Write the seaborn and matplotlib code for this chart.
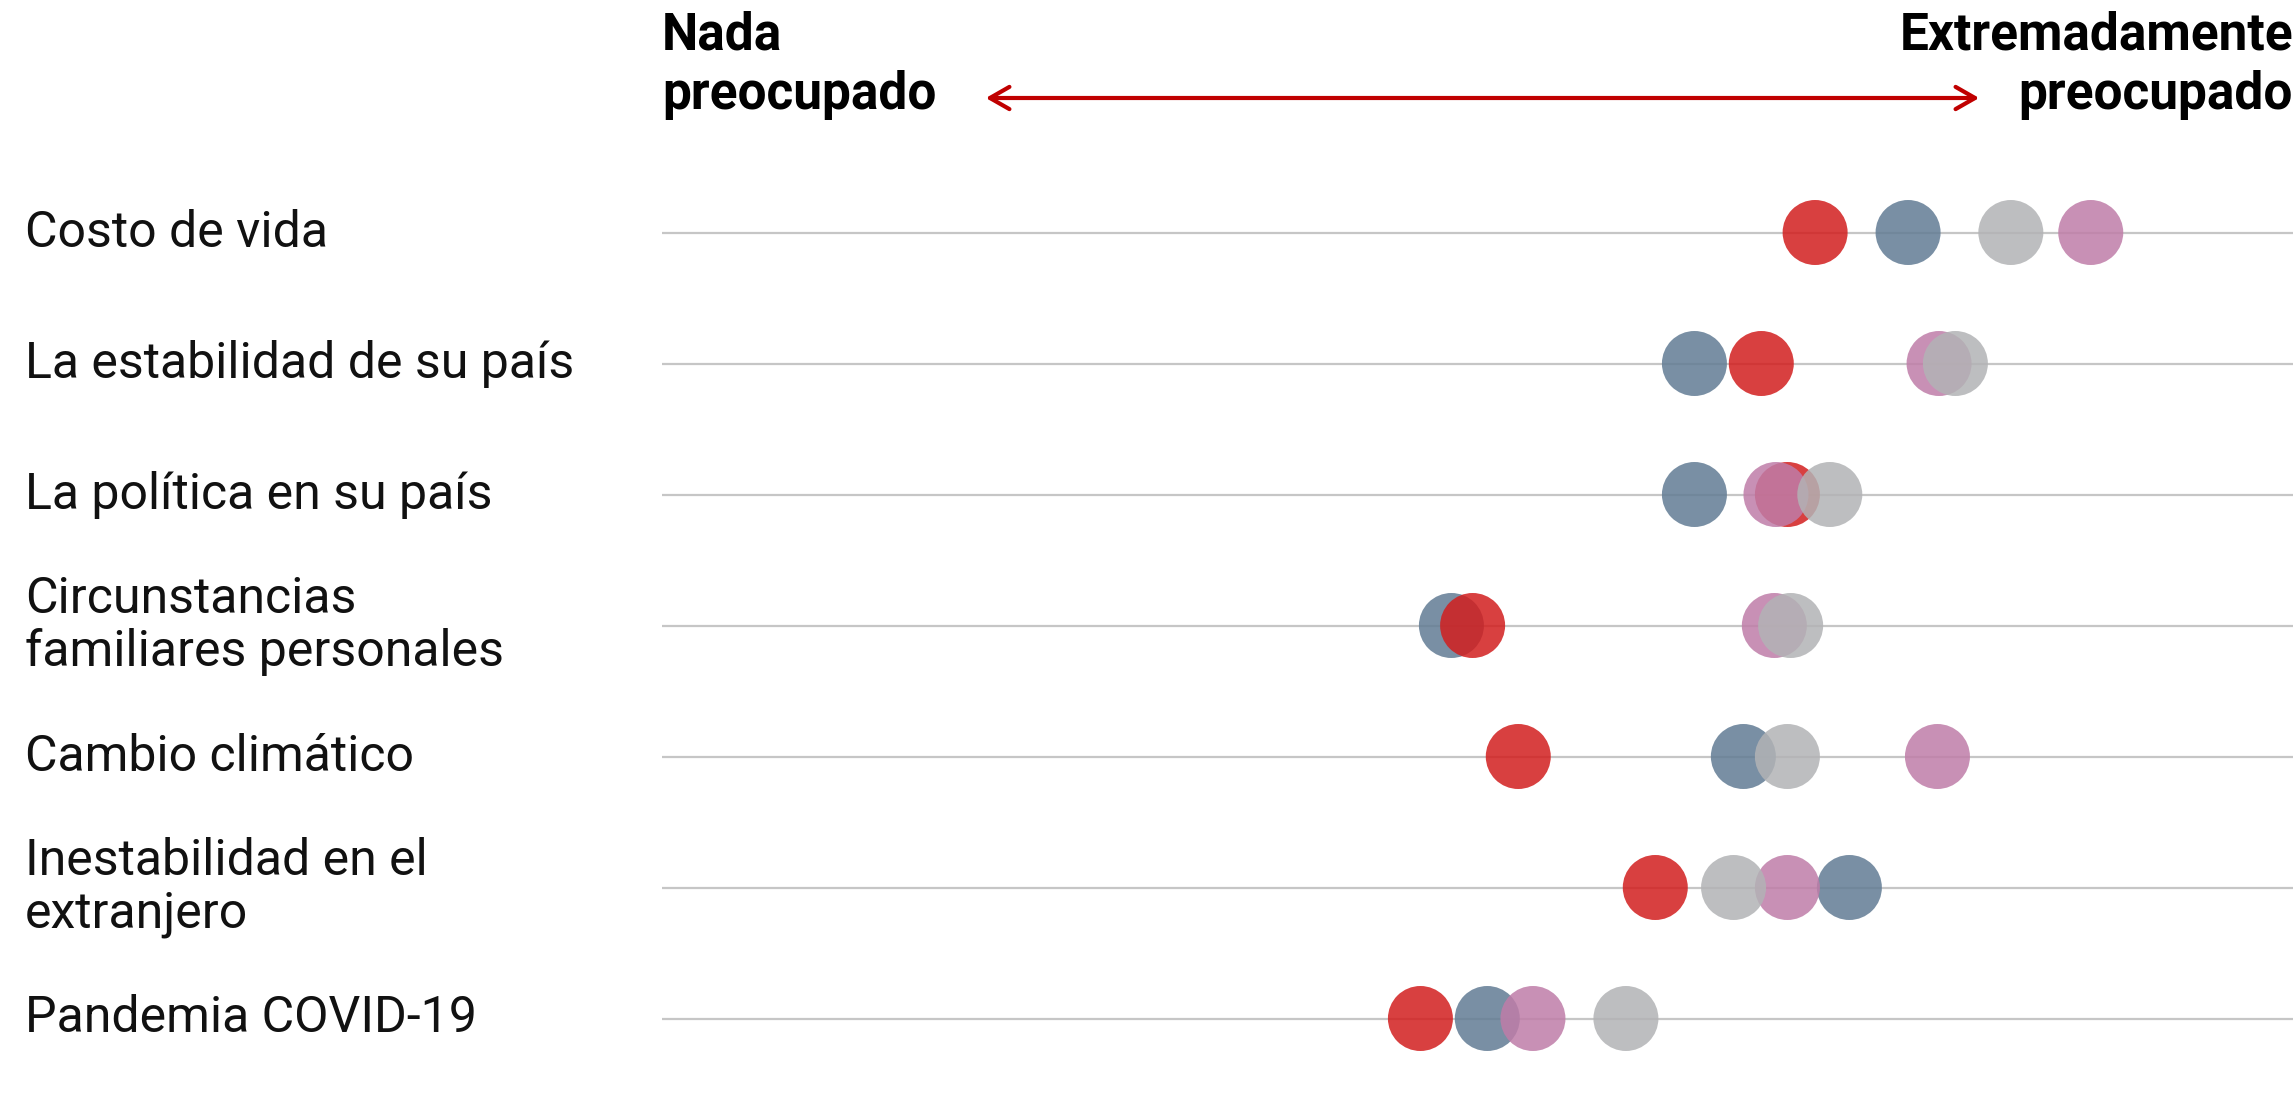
import pandas as pd
import seaborn as sns
import matplotlib.pyplot as plt
from matplotlib.patches import FancyArrowPatch
from matplotlib.transforms import blended_transform_factory

# Concern level, on a 0 (nada) to 10 (extremadamente) scale
temas = [
    "Costo de vida",
    "La estabilidad de su país",
    "La política en su país",
    "Circunstancias\nfamiliares personales",
    "Cambio climático",
    "Inestabilidad en el\nextranjero",
    "Pandemia COVID-19",
]
grupo_azul = [7.64, 6.33, 6.33, 4.84, 6.63, 7.28, 5.06]
grupo_rojo = [7.07, 6.74, 6.90, 4.97, 5.25, 6.09, 4.65]
grupo_rosa = [8.76, 7.83, 6.83, 6.82, 7.82, 6.90, 5.34]
grupo_gris = [8.27, 7.93, 7.16, 6.92, 6.90, 6.57, 5.91]

grupos = ["azul", "rojo", "rosa", "gris"]
colores = {"azul": "#627C94", "rojo": "#D21E1E", "rosa": "#BF7DA8", "gris": "#B2B3B5"}


def build_frame():
    rows = []
    for nombre, valores in zip(grupos, [grupo_azul, grupo_rojo, grupo_rosa, grupo_gris]):
        for i, v in enumerate(valores):
            rows.append({"tema": i, "valor": v, "grupo": nombre})
    return pd.DataFrame(rows)


def main():
    sns.set_style("white")
    plt.rcParams["font.family"] = ["Roboto", "DejaVu Sans"]

    W, H = 2293, 1103
    fig = plt.figure(figsize=(W / 100, H / 100), dpi=100)

    row_gap = 131.0
    top = 232.5 - row_gap / 2
    bottom = top + row_gap * len(temas)
    ax = fig.add_axes([662 / W, 1 - bottom / H, 1 - 662 / W, (bottom - top) / H])

    ax.set_xlim(0, 10)
    ax.set_ylim(len(temas) - 0.5, -0.5)

    for i in range(len(temas)):
        ax.axhline(i, color="#c6c6c6", lw=1.6, zorder=1)

    df = build_frame()
    sns.scatterplot(data=df, x="valor", y="tema", hue="grupo", palette=colores,
                    hue_order=grupos, s=2190, alpha=0.85, linewidth=0,
                    legend=False, ax=ax, zorder=3)

    ax.set_axis_off()

    # category labels on the far left
    trans = blended_transform_factory(fig.transFigure, ax.transData)
    for i, t in enumerate(temas):
        ax.text(25 / W, i, t, transform=trans, ha="left", va="center",
                fontsize=36, color="#111111", linespacing=1.12)

    # header
    fig.text(662 / W, 1 - 10 / H, "Nada\npreocupado", ha="left", va="top",
             fontsize=37, fontweight="bold", color="#000000", linespacing=1.25)
    fig.text(1.0, 1 - 10 / H, "Extremadamente\npreocupado", ha="right", va="top",
             fontsize=37, fontweight="bold", color="#000000", linespacing=1.25)
    fig.add_artist(FancyArrowPatch(
        (983 / W, 1 - 98 / H), (1982 / W, 1 - 98 / H), transform=fig.transFigure,
        arrowstyle="<->,head_length=14,head_width=8", color="#C00000", lw=3))

    fig.savefig("out.png", dpi=100, facecolor="white")


if __name__ == "__main__":
    main()
